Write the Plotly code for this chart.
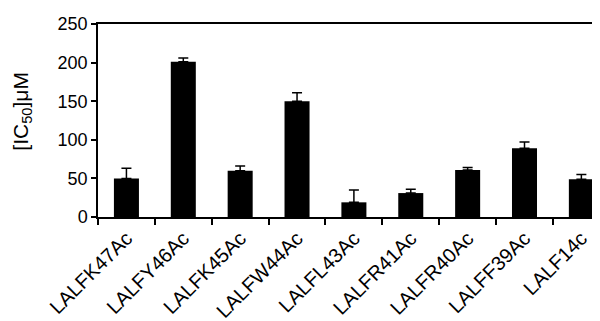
import plotly.graph_objects as go

categories = ["LALFK47Ac", "LALFY46Ac", "LALFK45Ac", "LALFW44Ac", "LALFL43Ac",
              "LALFR41Ac", "LALFR40Ac", "LALFF39Ac", "LALF14c"]
ic50 = [50, 201, 60, 150, 19, 31, 61, 89, 49]
err_plus = [13, 5, 6, 11, 16, 5, 3, 8, 6]
y_ticks = [0, 50, 100, 150, 200, 250]
y_title = "[IC<sub>50</sub>]μM"

fig = go.Figure(go.Bar(
    x=categories, y=ic50, width=0.44,
    marker=dict(color="black", line=dict(width=0)),
    error_y=dict(type="data", array=err_plus, arrayminus=[0] * len(err_plus),
                 symmetric=False, color="black", thickness=1.5, width=5),
))

# page body has an 8px default margin, so the figure is sized to fill the rest
fig.update_layout(
    width=592, height=313,
    margin=dict(l=90, r=1, t=16, b=104),
    plot_bgcolor="white", paper_bgcolor="white",
    font=dict(family="Liberation Sans, Arial, sans-serif", size=17, color="black"),
    showlegend=False,
)
fig.add_annotation(
    text=y_title, textangle=-90, showarrow=False,
    xref="paper", yref="paper", x=-0.152, y=0.55,
    xanchor="center", yanchor="middle", font=dict(size=21),
)
fig.update_xaxes(
    range=[-0.5, 8.31], showline=True, linecolor="black", linewidth=1.5,
    mirror=True, ticks="outside", tickson="boundaries", ticklen=6,
    tickcolor="black", tickwidth=1.5, tickangle=-45, showgrid=False,
    tickfont=dict(size=20), automargin=False,
)
fig.update_yaxes(
    range=[0, 250], tickvals=y_ticks, showline=True, linecolor="black",
    linewidth=1.5, ticks="outside", ticklen=5, tickcolor="black", tickwidth=1.5,
    showgrid=False, zeroline=False, automargin=False, tickfont=dict(size=18),
)

fig.write_html("out.html")
